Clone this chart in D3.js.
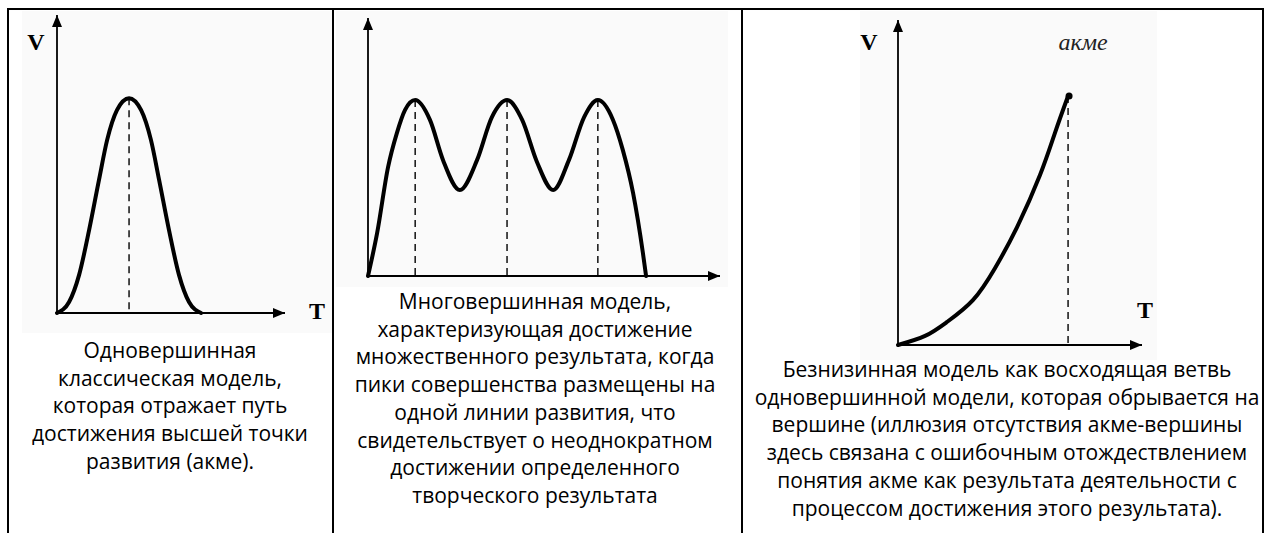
<!DOCTYPE html>
<html>
<head>
<meta charset="utf-8">
<script src="https://cdn.jsdelivr.net/npm/d3@7"></script>
<style>
  body { margin: 0; background: #fff; }
  svg { display: block; }
</style>
</head>
<body>
<div id="chart"></div>
<script>
// Panel 1: single peak model (T, V in abstract units 0..100)
const singleT = [0, 5.3, 9.7, 14.1, 18.4, 22.0, 26.3, 31.6, 36.9, 41.2, 44.8, 49.1, 53.5, 57.9, 63.2];
const singleV = [0, 3.7, 12.8, 27.9, 44.6, 58.1, 68.1, 72.1, 68.1, 58.1, 44.6, 27.9, 12.8, 3.7, 0];
const singlePeaks = [31.6];

// Panel 2: multi-peak model
const multiT = [0, 2.6, 5.7, 8.2, 10.5, 13.4, 17.6, 21.3, 26.1, 31.0, 35.2, 39.5, 43.8, 48.0, 52.6, 57.1, 61.4, 65.3, 69.6, 72.4, 75.3, 78.1, 79.0];
const multiV = [0, 16.7, 42.2, 55.4, 64.3, 68.2, 60.5, 45.0, 33.3, 45.0, 61.6, 68.2, 60.5, 44.2, 33.3, 45.0, 61.6, 68.2, 60.5, 48.8, 32.2, 8.9, 0];
const multiPeaks = [13.4, 39.5, 65.3];

// Panel 3: rising branch without decline
const riseT = [0, 11.1, 20.1, 30.7, 39.8, 48.8, 58.2, 64.3, 69.7];
const riseV = [0, 2.8, 7.1, 13.8, 23.7, 36.3, 52.3, 65.2, 76.6];
const risePeaks = [69.7];

const captions = [
    ["Одновершинная", "классическая модель,", "которая отражает путь", "достижения высшей точки", "развития (акме)."],
    ["Многовершинная модель,", "характеризующая достижение", "множественного результата, когда", "пики совершенства размещены на",
     "одной линии развития, что", "свидетельствует о неоднократном", "достижении определенного", "творческого результата"],
    ["Безнизинная модель как восходящая ветвь", "одновершинной модели, которая обрывается на", "вершине (иллюзия отсутствия акме-вершины",
     "здесь связана с ошибочным отождествлением", "понятия акме как результата деятельности с", "процессом достижения этого результата)."]
];

const width = 1273, height = 533;

const svg = d3.select("#chart")
    .append("svg")
    .attr("width", width)
    .attr("height", height);

// arrowhead marker
svg.append("defs").append("marker")
    .attr("id", "arrow")
    .attr("viewBox", "0 0 12 10")
    .attr("refX", 12)
    .attr("refY", 5)
    .attr("markerWidth", 12)
    .attr("markerHeight", 10)
    .attr("markerUnits", "userSpaceOnUse")
    .attr("orient", "auto")
    .append("path")
    .attr("d", "M0,0 L12,5 L0,10 Z")
    .attr("fill", "#000");

// table cells
const cells = [
    { x0: 8, x1: 333, cx: 170, img: [22, 11, 310, 322], firstBase: 358 },
    { x0: 333, x1: 742, cx: 535, img: [336, 11, 392, 276], firstBase: 309 },
    { x0: 742, x1: 1263, cx: 1007, img: [860, 11, 297, 349], firstBase: 377 }
];

cells.forEach(c => {
    svg.append("rect")
        .attr("x", c.img[0]).attr("y", c.img[1])
        .attr("width", c.img[2]).attr("height", c.img[3])
        .attr("fill", "#fafafa");
});

// borders
svg.append("line").attr("x1", 7).attr("x2", 1264).attr("y1", 9).attr("y2", 9)
    .attr("stroke", "#000").attr("stroke-width", 2);
[8, 333, 742, 1263].forEach(x => {
    svg.append("line").attr("x1", x).attr("x2", x).attr("y1", 8).attr("y2", height)
        .attr("stroke", "#000").attr("stroke-width", 2);
});

const panels = [
    { t: singleT, v: singleV, peaks: singlePeaks, xr: [57, 285], yr: [313, 15], curve: d3.curveMonotoneX, labels: true, V: [36, 50], T: [317, 319] },
    { t: multiT, v: multiV, peaks: multiPeaks, xr: [368, 720], yr: [276, 18], curve: d3.curveMonotoneX, labels: false },
    { t: riseT, v: riseV, peaks: risePeaks, xr: [898, 1142], yr: [345, 20], curve: d3.curveNatural, labels: true, V: [869, 50], T: [1145, 318], acme: true }
];

panels.forEach((p, i) => {
    const x = d3.scaleLinear().domain([0, 100]).range(p.xr);
    const y = d3.scaleLinear().domain([0, 100]).range(p.yr);
    const g = svg.append("g");
    const pts = p.t.map((t, k) => ({ t: t, v: p.v[k] }));

    // dashed drop lines at the peaks
    p.peaks.forEach(pk => {
        const d = pts.find(q => q.t === pk);
        g.append("line")
            .attr("x1", x(pk)).attr("x2", x(pk))
            .attr("y1", y(d.v)).attr("y2", y(0))
            .attr("stroke", "#000")
            .attr("stroke-width", 1.4)
            .attr("stroke-dasharray", "7 5");
    });

    // axes with arrows
    g.append("line")
        .attr("x1", x(0)).attr("y1", y(0))
        .attr("x2", x(100)).attr("y2", y(0))
        .attr("stroke", "#000").attr("stroke-width", 1.8)
        .attr("marker-end", "url(#arrow)");
    g.append("line")
        .attr("x1", x(0)).attr("y1", y(0) + 1)
        .attr("x2", x(0)).attr("y2", y(100))
        .attr("stroke", "#000").attr("stroke-width", 1.8)
        .attr("marker-end", "url(#arrow)");

    const line = d3.line()
        .x(d => x(d.t))
        .y(d => y(d.v))
        .curve(p.curve);

    g.append("path")
        .datum(pts)
        .attr("fill", "none")
        .attr("stroke", "#000")
        .attr("stroke-width", 4)
        .attr("stroke-linecap", "round")
        .attr("d", line);

    if (p.acme) {
        const last = pts[pts.length - 1];
        g.append("circle")
            .attr("cx", x(last.t) + 1).attr("cy", y(last.v))
            .attr("r", 3.5).attr("fill", "#000");
        g.append("text")
            .attr("x", x(last.t) + 15).attr("y", 50)
            .attr("text-anchor", "middle")
            .style("font-family", "'Liberation Serif', serif")
            .style("font-style", "italic")
            .style("font-size", "24px")
            .attr("fill", "#222")
            .text("акме");
    }

    if (p.labels) {
        g.append("text")
            .attr("x", p.V[0]).attr("y", p.V[1])
            .attr("text-anchor", "middle")
            .style("font-family", "'Liberation Serif', serif")
            .style("font-weight", "bold")
            .style("font-size", "24px")
            .text("V");
        g.append("text")
            .attr("x", p.T[0]).attr("y", p.T[1])
            .attr("text-anchor", "middle")
            .style("font-family", "'Liberation Serif', serif")
            .style("font-weight", "bold")
            .style("font-size", "24px")
            .text("T");
    }

    // caption under the picture
    const c = cells[i];
    captions[i].forEach((s, k) => {
        svg.append("text")
            .attr("x", c.cx)
            .attr("y", c.firstBase + k * 27.7)
            .attr("text-anchor", "middle")
            .style("font-family", "'Open Sans', sans-serif")
            .style("font-size", "21px")
            .attr("fill", "#000")
            .text(s);
    });
});
</script>
</body>
</html>
